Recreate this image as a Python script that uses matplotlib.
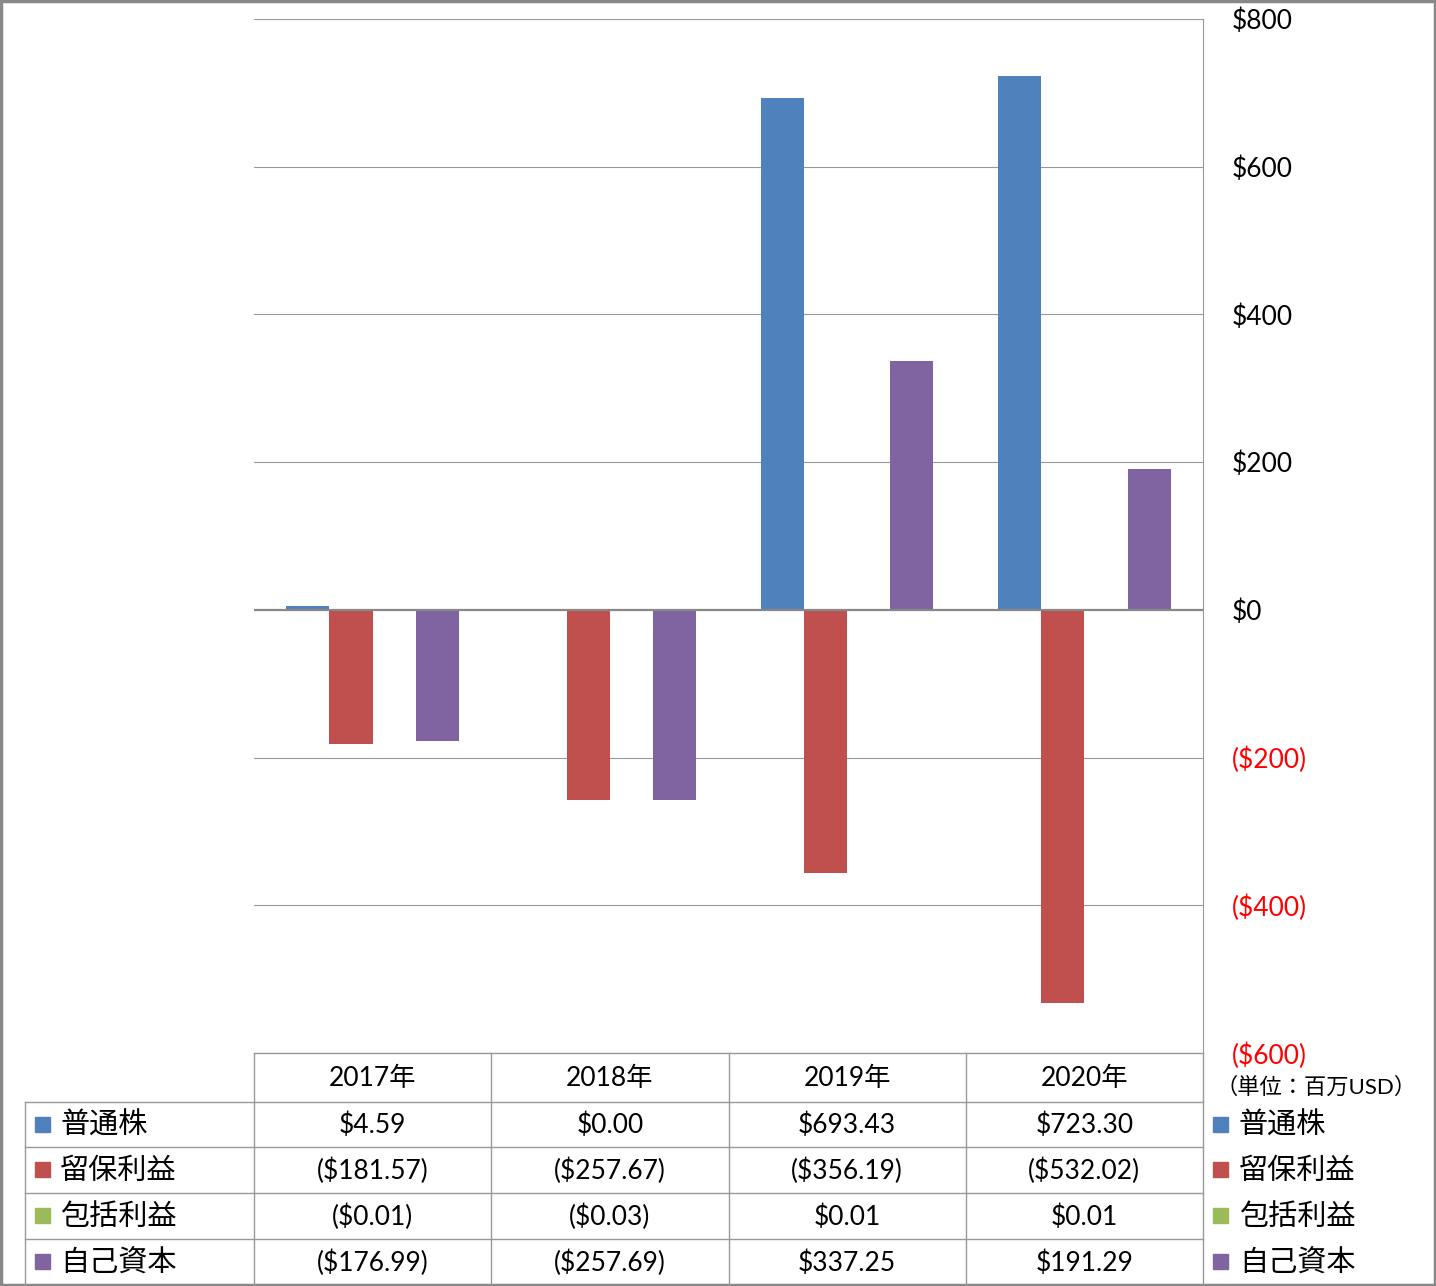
import matplotlib
matplotlib.use("Agg")
import matplotlib.pyplot as plt
import numpy as np

plt.rcParams['font.family'] = ['Lato', 'Noto Sans CJK JP', 'DejaVu Sans']

years = ['2017年', '2018年', '2019年', '2020年']
series_names = ['普通株', '留保利益', '包括利益', '自己資本']
common_stock = [4.59, 0.00, 693.43, 723.30]
retained_earnings = [-181.57, -257.67, -356.19, -532.02]
comprehensive_income = [-0.01, -0.03, 0.01, 0.01]
equity = [-176.99, -257.69, 337.25, 191.29]
colors = ['#4F81BD', '#C0504D', '#9BBB59', '#8064A2']
unit_label = '（単位：百万USD）'
yticks = [-600, -400, -200, 0, 200, 400, 600, 800]

series = [common_stock, retained_earnings, comprehensive_income, equity]

W, H = 1436, 1286
fig = plt.figure(figsize=(W / 100, H / 100), dpi=100)

# plot area (pixel coords)
L, R, T, B = 254, 1203, 19, 1053
ax = fig.add_axes([L / W, 1 - B / H, (R - L) / W, (B - T) / H])
x = np.arange(len(years))
bw = 0.182
for i, (vals, c) in enumerate(zip(series, colors)):
    ax.bar(x + (i - 1.5) * bw, vals, width=bw, color=c, zorder=3)
ax.set_xlim(-0.5, len(years) - 0.5)
ax.set_ylim(-600, 800)
ax.set_yticks(yticks)
for yv in yticks:
    ax.axhline(yv, color='#888888' if yv == 0 else '#999999',
               lw=1.6 if yv == 0 else 0.8, zorder=1 if yv != 0 else 4)
ax.set_xticks([])
ax.yaxis.tick_right()
ax.tick_params(axis='y', length=0, pad=21, labelsize=19)


def fmt(v, dec=0):
    s = f"${abs(v):,.{dec}f}"
    return f"({s})" if v < 0 else s


ax.set_yticklabels([fmt(v) for v in yticks])
for lab, v in zip(ax.get_yticklabels(), yticks):
    lab.set_color('#FF0000' if v < 0 else 'black')
    lab.set_horizontalalignment('left')
for s in ['top', 'bottom', 'left']:
    ax.spines[s].set_visible(False)
ax.spines['right'].set_color('#999999')
ax.spines['right'].set_linewidth(0.8)

# overlay for table and legend
ov = fig.add_axes([0, 0, 1, 1])
ov.set_xlim(0, W)
ov.set_ylim(H, 0)
ov.axis('off')
ov.patch.set_alpha(0)

lc = '#999999'
col_x = np.linspace(L, R, len(years) + 1)
row_y = [1053, 1102, 1147, 1193, 1239, 1285]
left_x = 25
# horizontal lines
ov.plot([L, R], [row_y[0]] * 2, color=lc, lw=1.0)
for yy in row_y[1:5]:
    ov.plot([left_x, R], [yy, yy], color=lc, lw=1.0)
# vertical lines
for xx in col_x:
    ov.plot([xx, xx], [row_y[0], row_y[-1]], color=lc, lw=1.0)
ov.plot([left_x, left_x], [row_y[1], row_y[-1]], color=lc, lw=1.0)

# header
for j, yr in enumerate(years):
    ov.text((col_x[j] + col_x[j + 1]) / 2, (row_y[0] + row_y[1]) / 2 + 1, yr,
            ha='center', va='center', fontsize=19)
# rows
for i, (name, vals, c) in enumerate(zip(series_names, series, colors)):
    yc = (row_y[i + 1] + row_y[i + 2]) / 2
    ov.add_patch(plt.Rectangle((35, yc - 8), 15, 15, color=c))
    ov.text(60, yc + 1, name, ha='left', va='center', fontsize=21)
    for j, v in enumerate(vals):
        ov.text((col_x[j] + col_x[j + 1]) / 2, yc + 1, fmt(v, 2),
                ha='center', va='center', fontsize=19)
    # right legend
    ov.add_patch(plt.Rectangle((1213, yc - 8), 15, 15, color=c))
    ov.text(1239, yc + 1, name, ha='left', va='center', fontsize=21)

ov.text(1316, 1087, unit_label, ha='center', va='center', fontsize=16)

# figure border
ov.add_patch(plt.Rectangle((1, 1), W - 2, H - 2, fill=False, ec='#888888', lw=2.5))

fig.savefig('out.png', dpi=100)
